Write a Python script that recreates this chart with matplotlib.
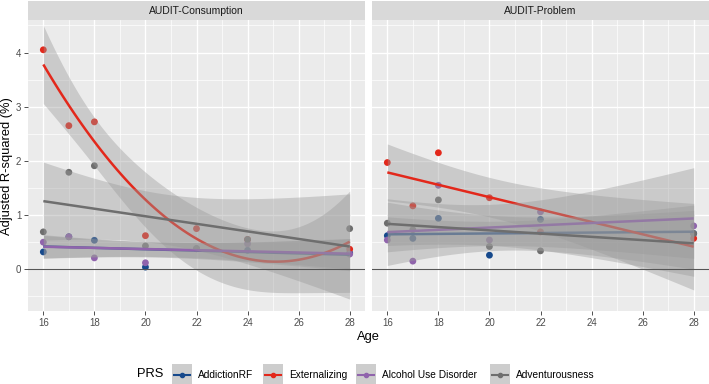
import numpy as np
import matplotlib
matplotlib.use('Agg')
import matplotlib.pyplot as plt
from matplotlib.patches import Rectangle

plt.rcParams['font.family'] = ['Liberation Sans', 'DejaVu Sans']

# --- data ---
panels = ['AUDIT-Consumption', 'AUDIT-Problem']
prs_names = ['AddictionRF', 'Externalizing', 'Alcohol Use Disorder', 'Adventurousness']
prs_colors = ['#16498C', '#E3281B', '#9064AC', '#6E6E6E']

ages_c = [16, 17, 18, 20, 22, 24, 28]
addiction_c = [0.32, 0.60, 0.535, 0.04, 0.38, 0.35, 0.30]
external_c = [4.05, 2.65, 2.72, 0.62, 0.75, 0.55, 0.37]
aud_c = [0.50, 0.60, 0.21, 0.12, 0.38, 0.47, 0.28]
advent_c = [0.69, 1.79, 1.91, 0.43, 0.38, 0.55, 0.75]

ages_p = [16, 17, 18, 20, 22, 28]
addiction_p = [0.62, 0.57, 0.94, 0.26, 0.92, 0.66]
external_p = [1.97, 1.17, 2.15, 1.32, 0.69, 0.57]
aud_p = [0.54, 0.15, 1.55, 0.54, 1.06, 0.80]
advent_p = [0.85, 0.73, 1.28, 0.42, 0.34, 0.66]

# polynomial degree of the smoother per panel / PRS
degree_c = [1, 2, 1, 1]
degree_p = [1, 1, 1, 1]

Z = 1.96  # band width factor


def smooth(x, y, deg, grid):
    # least squares fit + confidence band
    x = np.asarray(x, float)
    y = np.asarray(y, float)
    X = np.vander(x, deg + 1)
    beta = np.linalg.lstsq(X, y, rcond=None)[0]
    resid = y - X @ beta
    dof = len(x) - deg - 1
    s2 = resid @ resid / dof
    xtx_inv = np.linalg.inv(X.T @ X)
    G = np.vander(grid, deg + 1)
    fit = G @ beta
    se = np.sqrt(s2 * np.einsum('ij,jk,ik->i', G, xtx_inv, G))
    return fit, fit - Z * se, fit + Z * se


data = [
    (ages_c, [addiction_c, external_c, aud_c, advent_c], degree_c),
    (ages_p, [addiction_p, external_p, aud_p, advent_p], degree_p),
]

W, H = 709, 384
fig = plt.figure(figsize=(W / 100, H / 100), dpi=100)

panel_x = [(28, 365), (372, 709)]
top, bottom = 20, 311

for k, (ages, series, degs) in enumerate(data):
    x0, x1 = panel_x[k]
    ax = fig.add_axes([x0 / W, 1 - bottom / H, (x1 - x0) / W, (bottom - top) / H])
    ax.set_facecolor('#EBEBEB')
    for s in ax.spines.values():
        s.set_visible(False)

    # points first
    for ys, c in zip(series, prs_colors):
        ax.scatter(ages, ys, s=24, color=c, edgecolor='none', zorder=2)

    grid = np.linspace(min(ages), max(ages), 80)
    for ys, c, d in zip(series, prs_colors, degs):
        fit, lo, hi = smooth(ages, ys, d, grid)
        ax.fill_between(grid, lo, hi, color='#999999', alpha=0.4, lw=0, zorder=3)
        ax.plot(grid, fit, color=c, lw=1.8, zorder=3, solid_capstyle='butt')

    ax.axhline(0, color='#555555', lw=0.8, zorder=4)

    ax.set_xlim(15.4, 28.6)
    ax.set_ylim(-0.77, 4.6)
    ax.set_xticks([16, 18, 20, 22, 24, 26, 28])
    ax.set_xticks([17, 19, 21, 23, 25, 27], minor=True)
    ax.set_yticks([0, 1, 2, 3, 4])
    ax.set_yticks([-0.5, 0.5, 1.5, 2.5, 3.5, 4.5], minor=True)
    ax.grid(which='major', color='white', lw=1.0)
    ax.grid(which='minor', color='white', lw=0.5)
    ax.set_axisbelow(True)
    ax.tick_params(which='major', length=2.75, width=0.6, color='#333333',
                   labelsize=7, labelcolor='#4D4D4D', pad=2)
    ax.tick_params(which='minor', length=0)
    if k == 1:
        ax.tick_params(axis='y', which='both', length=0, labelleft=False)

    # facet strip
    sx = fig.add_axes([x0 / W, 1 - top / H, (x1 - x0) / W, (top - 1) / H])
    sx.set_facecolor('#D9D9D9')
    sx.set_xticks([])
    sx.set_yticks([])
    for s in sx.spines.values():
        s.set_visible(False)
    sx.text(0.5, 0.5, panels[k], ha='center', va='center', fontsize=7.5, color='#1A1A1A',
            transform=sx.transAxes)

fig.text(368 / W, 1 - 337 / H, 'Age', ha='center', va='center', fontsize=9.3)
fig.text(7 / W, 1 - 166 / H, 'Adjusted R-squared (%)', ha='center', va='center',
         rotation=90, fontsize=9.3)

# legend, drawn by hand in pixel coordinates
lax = fig.add_axes([0, 0, 1, 1])
lax.set_xlim(0, W)
lax.set_ylim(H, 0)
lax.axis('off')
lax.text(137, 374, 'PRS', ha='left', va='center', fontsize=9.3)
key_x = [172, 263, 356, 490]
for kx, name, c in zip(key_x, prs_names, prs_colors):
    lax.add_patch(Rectangle((kx, 364), 20, 21, facecolor='#CDCDCD', edgecolor='none'))
    lax.plot([kx + 2, kx + 18], [374.5, 374.5], color=c, lw=1.5)
    lax.plot([kx + 10], [374.5], 'o', color=c, ms=3)
    lax.text(kx + 26, 374.5, name, ha='left', va='center', fontsize=7.3)

fig.savefig('out.png', dpi=100)
